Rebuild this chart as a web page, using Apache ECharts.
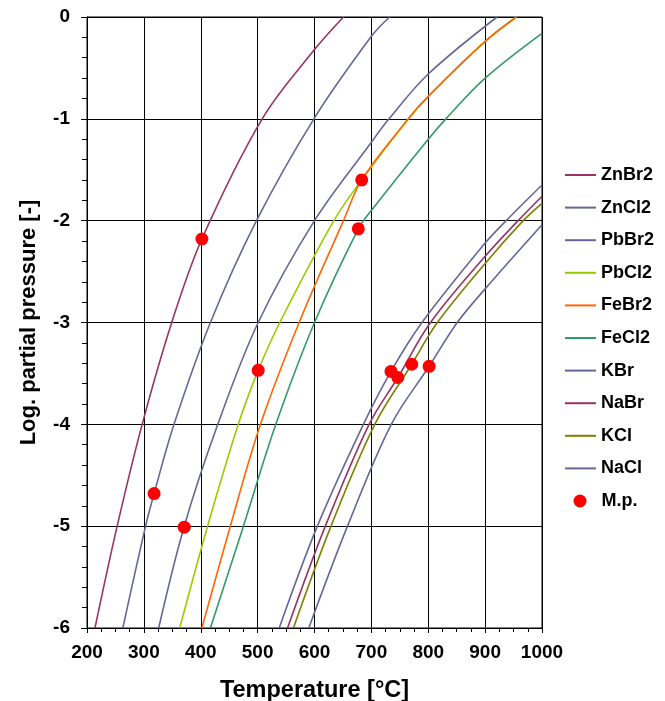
<!DOCTYPE html>
<html lang="en">
<head>
  <meta charset="UTF-8">
  <title>Vapour pressure of chlorides and bromides</title>
  <style>
    html, body { margin: 0; padding: 0; background: #fff; }
    #chart { width: 665px; height: 701px; }
  </style>
</head>
<body>
  <div id="chart"></div>
  <script src="https://cdn.jsdelivr.net/npm/echarts@6/dist/echarts.min.js"></script>
  <script type="text/javascript">

    // [temperature °C, log partial pressure]
    var ZnBr2 = [[214, -6], [253, -5], [297, -4], [349, -3], [402, -2.18], [508, -1], [600, -0.32], [651, 0]]
    var ZnCl2 = [[263, -6], [303, -5], [318, -4.68], [353, -4], [417, -3], [498, -2], [599, -1], [700, -0.19], [732, 0]]
    var PbBr2 = [[326, -6], [371, -5], [430, -4], [501, -3], [600, -2], [700, -1.23], [731, -1], [800, -0.56], [921, 0]]
    var PbCl2 = [[363, -6], [412, -5], [466, -4], [501, -3.47], [539, -3], [634, -2], [683, -1.6], [765, -1], [800, -0.78], [900, -0.24], [955, 0]]
    var FeBr2 = [[402, -6], [452, -5], [505, -4], [573, -3], [651, -2], [683, -1.6], [765, -1], [800, -0.78], [900, -0.24], [955, 0]]
    var FeCl2 = [[417, -6], [475, -5], [532, -4], [600, -3], [677, -2.08], [700, -1.9], [800, -1.2], [831, -1], [900, -0.6], [1000, -0.16]]
    var KBr = [[538, -6], [605, -5], [686, -4], [734.5, -3.48], [789, -3], [900, -2.22], [937, -2], [1000, -1.65]]
    var NaBr = [[552.6, -6], [619, -5], [696, -4], [746.5, -3.54], [804, -3], [900, -2.35], [958, -2], [1000, -1.76]]
    var KCl = [[563, -6], [629, -5], [706, -4], [771, -3.41], [816, -3], [900, -2.42], [967, -2], [1000, -1.83]]
    var NaCl = [[590, -6], [658, -5], [735, -4], [801.5, -3.43], [851, -3], [900, -2.67], [1000, -2.04]]

    // melting points
    var meltingPoints = [[402, -2.18], [318, -4.68], [371, -5.01], [501, -3.47], [683, -1.6], [677, -2.08], [734.5, -3.48], [746.5, -3.54], [771, -3.41], [801.5, -3.43]]

    var names = ['ZnBr2', 'ZnCl2', 'PbBr2', 'PbCl2', 'FeBr2', 'FeCl2', 'KBr', 'NaBr', 'KCl', 'NaCl']
    var curves = [ZnBr2, ZnCl2, PbBr2, PbCl2, FeBr2, FeCl2, KBr, NaBr, KCl, NaCl]
    var colors = ['#993366', '#666699', '#666699', '#99cc00', '#ff6600', '#339966', '#666699', '#993366', '#808000', '#666699']

    var font = '"Liberation Sans", Arial, sans-serif'
    var legendText = { fontFamily: font, fontWeight: 'bold', fontSize: 18, color: '#000', lineHeight: 18 }

    var series = names.map(function (name, i) {
      return {
        name: name,
        type: 'line',
        data: curves[i],
        smooth: 0.35,
        symbol: 'none',
        color: colors[i],
        lineStyle: { width: 1.6, color: colors[i] }
      }
    })
    series.push({
      name: 'M.p.',
      type: 'scatter',
      data: meltingPoints,
      symbol: 'circle',
      symbolSize: 13,
      color: '#ff0000',
      itemStyle: { color: '#ff0000', opacity: 1 },
      z: 5
    })

    var chart = echarts.init(document.getElementById('chart'))
    chart.setOption({
      animation: false,
      backgroundColor: '#fff',
      grid: {
        left: 87, top: 17, width: 455, height: 611,
        outerBoundsMode: 'none',
        show: true, borderColor: '#000', borderWidth: 1
      },
      legend: [{
        orient: 'vertical',
        left: 565,
        top: 166,
        padding: 0,
        itemWidth: 31,
        itemHeight: 2,
        itemGap: 14.6,
        icon: 'rect',
        data: names,
        textStyle: legendText
      }, {
        orient: 'vertical',
        left: 573.5,
        top: 492,
        padding: 0,
        itemWidth: 13,
        itemHeight: 13,
        icon: 'circle',
        data: ['M.p.'],
        textStyle: Object.assign({ padding: [0, 0, 0, 10] }, legendText)
      }],
      xAxis: {
        type: 'value',
        min: 200,
        max: 1000,
        interval: 100,
        name: 'Temperature [°C]',
        nameLocation: 'middle',
        nameGap: 51,
        nameTextStyle: { fontFamily: font, fontWeight: 'bold', fontSize: 23.5, color: '#000' },
        axisLine: { onZero: false, lineStyle: { color: '#000', width: 1 } },
        axisTick: { show: true, length: 5, lineStyle: { color: '#000' } },
        minorTick: { show: true, splitNumber: 4, length: 4, lineStyle: { color: '#000' } },
        splitLine: { show: true, lineStyle: { color: '#000', width: 1 } },
        axisLabel: {
          margin: 15, fontFamily: font, fontWeight: 'bold', fontSize: 19, color: '#000',
          formatter: function (v) { return String(v) }
        }
      },
      yAxis: {
        type: 'value',
        min: -6,
        max: 0,
        interval: 1,
        name: 'Log. partial pressure [-]',
        nameLocation: 'middle',
        nameGap: 47,
        nameTextStyle: { fontFamily: font, fontWeight: 'bold', fontSize: 22, color: '#000' },
        axisLine: { show: true, onZero: false, lineStyle: { color: '#000', width: 1 } },
        axisTick: { show: true, length: 6, lineStyle: { color: '#000' } },
        minorTick: { show: true, splitNumber: 5, length: 5, lineStyle: { color: '#000' } },
        splitLine: { show: true, lineStyle: { color: '#000', width: 1 } },
        axisLabel: { margin: 17, fontFamily: font, fontWeight: 'bold', fontSize: 19, color: '#000' }
      },
      series: series
    })
  </script>
</body>
</html>
